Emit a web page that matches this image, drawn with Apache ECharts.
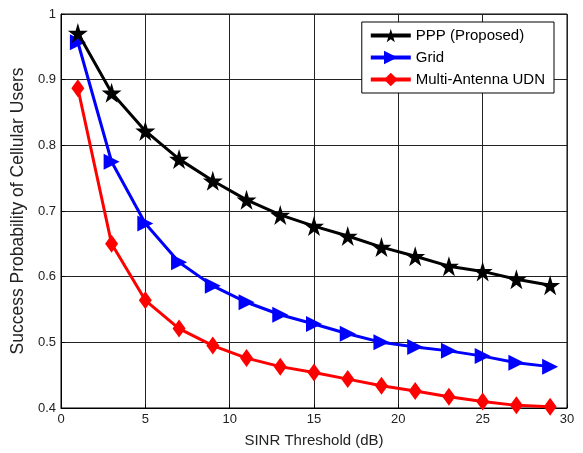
<!DOCTYPE html>
<html><head><meta charset="utf-8">
<script src="https://cdn.jsdelivr.net/npm/echarts@6/dist/echarts.min.js"></script>
<style>html,body{margin:0;padding:0;background:#fff}#c{width:583px;height:453px}</style>
</head><body><div id="c"></div>
<script>
const xs = [1,3,5,7,9,11,13,15,17,19,21,23,25,27,29];
const ppp = [0.971,0.880,0.822,0.779,0.746,0.717,0.694,0.677,0.662,0.645,0.631,0.616,0.608,0.596,0.587];
const grid = [0.957,0.775,0.681,0.622,0.586,0.561,0.542,0.528,0.513,0.500,0.493,0.487,0.479,0.469,0.463];
const udn = [0.887,0.650,0.564,0.521,0.495,0.476,0.463,0.454,0.444,0.434,0.426,0.417,0.410,0.404,0.402];
const names = ['PPP (Proposed)','Grid','Multi-Antenna UDN'];

const star = 'path://M50,0 L61,35 L98,35 L68,57 L79,91 L50,70 L21,91 L32,57 L2,35 L39,35 Z';
const pair = a => xs.map((x,i)=>[x,a[i]]);
const font = 'Liberation Sans, Arial, sans-serif';
const chart = echarts.init(document.getElementById('c'));
chart.setOption({
  animation:false,
  backgroundColor:'#fff',
  grid:{left:61,right:16,top:14,bottom:45,show:true,borderColor:'#000',borderWidth:1},
  legend:{
    right:29, top:22, orient:'vertical', backgroundColor:'#fff', borderColor:'#000', borderWidth:1,
    padding:[6,9,6,7], itemGap:7, itemWidth:40, itemHeight:17,
    lineStyle:{width:4},
    textStyle:{fontFamily:font,fontSize:15,color:'#000'},
    data:names
  },
  xAxis:{type:'value',min:0,max:30,interval:5,
    name:'SINR Threshold (dB)',nameLocation:'middle',nameGap:25,
    nameTextStyle:{fontFamily:font,fontSize:15,color:'#222'},
    axisLine:{lineStyle:{color:'#000'}},
    axisTick:{inside:true,length:4,lineStyle:{color:'#000'}},
    axisLabel:{fontFamily:font,fontSize:13,color:'#222',margin:5},
    splitLine:{show:true,lineStyle:{color:'#222',width:1}}
  },
  yAxis:{type:'value',min:0.4,max:1,interval:0.1,
    name:'Success Probability of Cellular Users',nameLocation:'middle',nameGap:33,
    nameTextStyle:{fontFamily:font,fontSize:17.5,color:'#222'},
    axisLine:{show:true,lineStyle:{color:'#000'}},
    axisTick:{show:true,inside:true,length:4,lineStyle:{color:'#000'}},
    axisLabel:{fontFamily:font,fontSize:13,color:'#222',margin:5,formatter:v=>String(+v.toFixed(1))},
    splitLine:{show:true,lineStyle:{color:'#222',width:1}}
  },
  series:[
    {name:names[0],type:'line',data:pair(ppp),color:'#000',symbol:star,symbolSize:20,
     lineStyle:{width:3,color:'#000'},itemStyle:{color:'#000'},z:3},
    {name:names[1],type:'line',data:pair(grid),color:'#00f',symbol:'triangle',symbolRotate:-90,symbolSize:[16,16],
     lineStyle:{width:3,color:'#00f'},itemStyle:{color:'#00f'},z:2},
    {name:names[2],type:'line',data:pair(udn),color:'#f00',symbol:'diamond',symbolSize:[13,18],
     lineStyle:{width:3,color:'#f00'},itemStyle:{color:'#f00'},z:1}
  ]
});
</script></body></html>
